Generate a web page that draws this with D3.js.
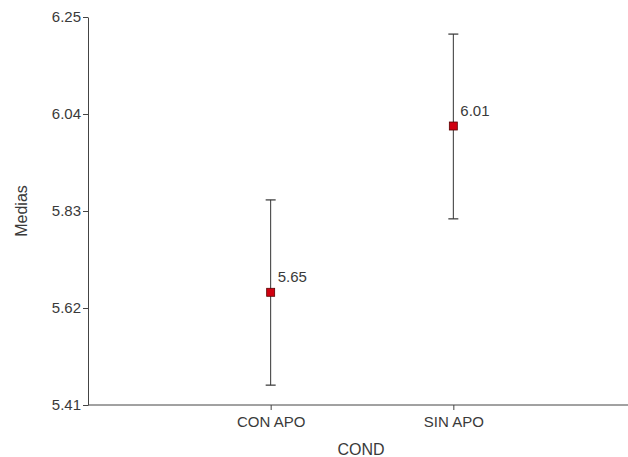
<!DOCTYPE html>
<html>
<head>
<meta charset="utf-8">
<script src="https://cdn.jsdelivr.net/npm/d3@7"></script>
<style>
  body { margin: 0; background: #fff; }
  text { font-family: "Liberation Sans", Arial, sans-serif; }
</style>
</head>
<body>
<svg id="chart" width="628" height="457"></svg>
<script>
const categories = ["CON APO", "SIN APO"];
const means = [5.654, 6.014];
const lower = [5.453, 5.813];
const upper = [5.854, 6.213];
const yTicks = [5.41, 5.62, 5.83, 6.04, 6.25];

const width = 628, height = 457;
const margin = { top: 17, right: 0, bottom: 52, left: 88 };

const svg = d3.select("#chart");

const x = d3.scalePoint()
  .domain(categories)
  .range([margin.left, 636])
  .padding(1);

const y = d3.scaleLinear()
  .domain([5.41, 6.25])
  .range([height - margin.bottom, margin.top]);

const data = categories.map((c, i) => ({ cat: c, mean: means[i], lo: lower[i], hi: upper[i] }));

// y axis
const yAxis = svg.append("g")
  .attr("transform", `translate(${margin.left},0)`)
  .call(d3.axisLeft(y).tickValues(yTicks).tickFormat(d3.format(".2f")).tickSize(5).tickSizeOuter(0));

// x axis
const xAxis = svg.append("g")
  .attr("transform", `translate(0,${height - margin.bottom})`)
  .call(d3.axisBottom(x).tickSize(5).tickSizeOuter(0));
xAxis.select(".domain").attr("d", `M${margin.left},0H${width}`);

svg.selectAll(".domain, .tick line").attr("stroke", "#444");
svg.selectAll(".tick text")
  .attr("fill", "#3a3a3a")
  .style("font-size", "15px");
yAxis.selectAll(".tick text").attr("x", -7);
xAxis.selectAll(".tick text").attr("y", 11);

// axis titles
svg.append("text")
  .attr("x", (margin.left + width) / 2 + 3)
  .attr("y", 455)
  .attr("text-anchor", "middle")
  .attr("fill", "#3a3a3a")
  .style("font-size", "16px")
  .text("COND");

svg.append("text")
  .attr("transform", `translate(27,${(margin.top + height - margin.bottom) / 2}) rotate(-90)`)
  .attr("text-anchor", "middle")
  .attr("fill", "#3a3a3a")
  .style("font-size", "16px")
  .text("Medias");

// error bars
const g = svg.append("g");
const bars = g.selectAll(".bar").data(data).enter().append("g").attr("class", "bar");

bars.append("line")
  .attr("x1", d => x(d.cat)).attr("x2", d => x(d.cat))
  .attr("y1", d => y(d.lo)).attr("y2", d => y(d.hi))
  .attr("stroke", "#333").attr("stroke-width", 1);

bars.append("line")
  .attr("x1", d => x(d.cat) - 5).attr("x2", d => x(d.cat) + 5)
  .attr("y1", d => y(d.hi)).attr("y2", d => y(d.hi))
  .attr("stroke", "#333").attr("stroke-width", 1.2);

bars.append("line")
  .attr("x1", d => x(d.cat) - 5).attr("x2", d => x(d.cat) + 5)
  .attr("y1", d => y(d.lo)).attr("y2", d => y(d.lo))
  .attr("stroke", "#333").attr("stroke-width", 1.2);

bars.append("rect")
  .attr("x", d => x(d.cat) - 4)
  .attr("y", d => y(d.mean) - 4)
  .attr("width", 8).attr("height", 8)
  .attr("fill", "#d00010")
  .attr("stroke", "#5a0000")
  .attr("stroke-width", 0.8);

bars.append("text")
  .attr("x", d => x(d.cat) + 7)
  .attr("y", d => y(d.mean) - 10)
  .attr("fill", "#3a3a3a")
  .style("font-size", "15px")
  .text(d => d3.format(".2f")(d.mean));
</script>
</body>
</html>
